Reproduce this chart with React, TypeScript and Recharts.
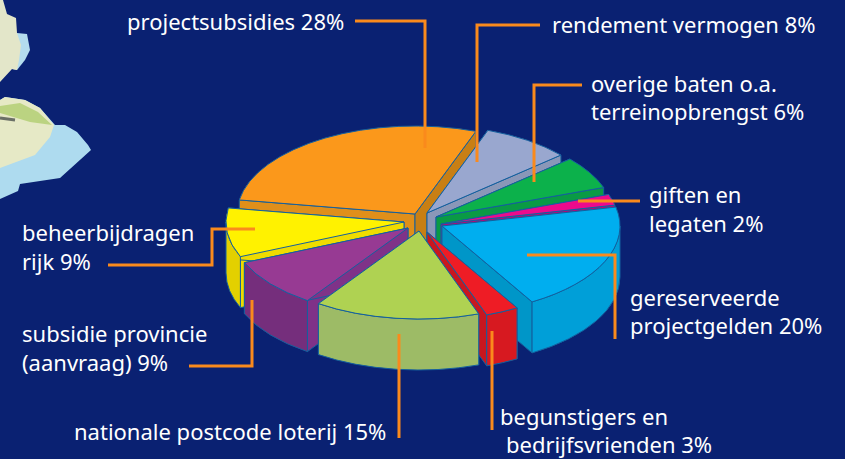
import { Pie, PieChart } from 'recharts';

const posten = [
  'rendement vermogen',
  'overige baten',
  'giften en legaten',
  'gereserveerde projectgelden',
  'begunstigers en bedrijfsvrienden',
  'nationale postcode loterij',
  'subsidie provincie',
  'beheerbijdragen rijk',
  'projectsubsidies',
];
const percentages = [8, 6, 2, 20, 3, 15, 9, 9, 28];
const bovenKleuren = ['#99A7CF', '#0CB14B', '#EC0A8C', '#00AEEF', '#EE1C25', '#AFD252', '#973A93', '#FFF200', '#FB981B'];
const randKleuren = ['#8A97B8', '#0A9A45', '#B5087A', '#009FD8', '#D71920', '#9DBB66', '#752E7C', '#E3D000', '#C87F14'];
const snedeKleuren = ['#8A97B8', '#0A9A45', '#B5087A', '#0096C8', '#C8171F', '#9DBB66', '#7F3288', '#EFDC00', '#C87F14'];
const eindKleuren = ['#8A97B8', '#0A9A45', '#B5087A', '#0096C8', '#C8171F', '#9DBB66', '#7F3288', '#EFDC00', '#E08F1A'];

// how far each slice is pulled out of the pie, in px
const uitsnedeX = [6, 15, 20, 21, 6, -2, -13, -17, -6];
const uitsnedeY = [-9, -5, 2, 4, 10, 9, 6, 0, -8];

// back to front, so the front slices cover the cut faces behind them
const tekenVolgorde = [8, 0, 1, 2, 7, 3, 4, 6, 5];

const chartData = posten.map((naam, i) => ({ naam, waarde: percentages[i], index: i }));

const RX = 178;
const RY = 88;
const DIEPTE = 51;
const LIJN = '#14609E';

const rad = (deg: number) => (deg * Math.PI) / 180;

function Punt(ox: number, oy: number, a: number): [number, number] {
  return [ox + RX * Math.cos(rad(a)), oy - RY * Math.sin(rad(a))];
}

function Taartpunt(props: any) {
  const { cx, cy, startAngle, endAngle, payload } = props;
  const i = payload.index;
  const ox = cx + uitsnedeX[i];
  const oy = cy + uitsnedeY[i];
  const [sx, sy] = Punt(ox, oy, startAngle);
  const [ex, ey] = Punt(ox, oy, endAngle);
  const groot = Math.abs(startAngle - endAngle) > 180 ? 1 : 0;

  const vlak = (x: number, y: number, fill: string) => (
    <path
      d={`M${ox},${oy} L${x},${y} L${x},${y + DIEPTE} L${ox},${oy + DIEPTE} Z`}
      fill={fill}
      stroke={LIJN}
      strokeWidth={1}
    />
  );

  // only the part of the rim on the near side of the pie is visible
  const a0 = Math.min(startAngle, 0);
  const a1 = Math.max(endAngle, -180);
  let rand = null;
  if (a0 > a1) {
    const [x0, y0] = Punt(ox, oy, a0);
    const [x1, y1] = Punt(ox, oy, a1);
    rand = (
      <path
        d={`M${x0},${y0} A${RX},${RY} 0 0 1 ${x1},${y1} L${x1},${y1 + DIEPTE} A${RX},${RY} 0 0 0 ${x0},${y0 + DIEPTE} Z`}
        fill={randKleuren[i]}
        stroke={LIJN}
        strokeWidth={1}
      />
    );
  }

  return (
    <g>
      {vlak(sx, sy, eindKleuren[i])}
      {vlak(ex, ey, snedeKleuren[i])}
      {rand}
      <path
        d={`M${ox},${oy} L${sx},${sy} A${RX},${RY} 0 ${groot} 1 ${ex},${ey} Z`}
        fill={bovenKleuren[i]}
        stroke={LIJN}
        strokeWidth={1}
      />
    </g>
  );
}

const labels = [
  { tekst: 'projectsubsidies 28%', x: 127, y: 30 },
  { tekst: 'rendement vermogen 8%', x: 552, y: 33 },
  { tekst: 'overige baten o.a.', x: 591, y: 92 },
  { tekst: 'terreinopbrengst 6%', x: 591, y: 120 },
  { tekst: 'giften en', x: 649, y: 203 },
  { tekst: 'legaten 2%', x: 649, y: 232 },
  { tekst: 'gereserveerde', x: 630, y: 306 },
  { tekst: 'projectgelden 20%', x: 630, y: 334 },
  { tekst: 'begunstigers en', x: 500, y: 425 },
  { tekst: 'bedrijfsvrienden 3%', x: 506, y: 453 },
  { tekst: 'nationale postcode loterij 15%', x: 74, y: 440 },
  { tekst: 'subsidie provincie', x: 22, y: 342 },
  { tekst: '(aanvraag) 9%', x: 22, y: 371 },
  { tekst: 'beheerbijdragen', x: 22, y: 241 },
  { tekst: 'rijk 9%', x: 22, y: 270 },
];

const lijnen = [
  '355,21 425,21 425,148',
  '540,25 477,25 477,162',
  '582,85 534,85 534,182',
  '578,201 640,201',
  '527,255 615,255 615,339',
  '492,331 492,430',
  '399,334 399,438',
  '189,366 252,366 252,300',
  '108,265 212,265 212,229 255,229',
];

function Kaart() {
  return (
    <g filter="url(#kaartBlur)">
      <defs>
        <filter id="kaartBlur" x="-10%" y="-10%" width="120%" height="120%">
          <feGaussianBlur stdDeviation={0.7} />
        </filter>
      </defs>
      <path d="M17,33 L27,34 L30,50 L25,60 L17,70 L12,69 Z" fill="#B4DCEE" />
      <path d="M3,0 L7,14 L16,18 L17,33 L21,45 L19,60 L17,70 L12,69 L0,82 L0,0 Z" fill="#E3E6C9" />
      <path d="M0,100 L5,97 L25,100 L40,108 L55,125 L65,125 L77,132 L88,145 L91,150 L60,178 L20,184 L18,191 L0,199 Z" fill="#AEDBEF" />
      <path d="M0,100 L5,97 L25,100 L40,108 L54,125 L50,137 L35,155 L0,168 Z" fill="#E6E9C6" />
      <path d="M0,106 L20,103 L38,112 L52,125 L30,122 L0,113 Z" fill="#BBD381" />
      <path d="M0,118 L15,120" stroke="#6B6F66" strokeWidth={3} fill="none" />
    </g>
  );
}

export default function App() {
  return (
    <div style={{ position: 'absolute', left: 0, top: 0, width: 845, height: 459, background: '#0A2172', overflow: 'hidden' }}>
      <PieChart width={845} height={459} margin={{ top: 0, right: 0, bottom: 0, left: 0 }}>
        <Kaart />
        {tekenVolgorde.map((k) => (
          <Pie
            key={k}
            data={chartData}
            dataKey="waarde"
            nameKey="naam"
            cx={421}
            cy={222}
            outerRadius={RX}
            startAngle={70}
            endAngle={-290}
            stroke="none"
            isAnimationActive={false}
            shape={(p: any) => (p.payload.index === k ? <Taartpunt {...p} /> : <g />)}
          />
        ))}
      </PieChart>
      {/* leader lines and labels sit on top of the pie */}
      <svg width={845} height={459} style={{ position: 'absolute', left: 0, top: 0 }}>
        {lijnen.map((pts) => (
          <polyline key={pts} points={pts} fill="none" stroke="#FA8A1C" strokeWidth={3} />
        ))}
        {labels.map((l) => (
          <text key={l.tekst} x={l.x} y={l.y} fill="#FFFFFF" fontFamily="Noto Sans" fontSize={22}>
            {l.tekst}
          </text>
        ))}
      </svg>
    </div>
  );
}
